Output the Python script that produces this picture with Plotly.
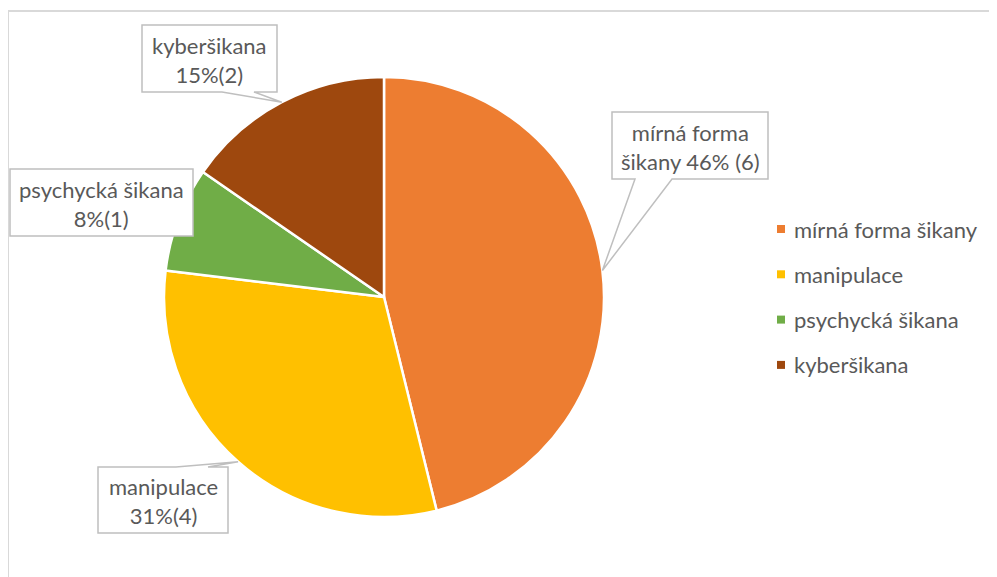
import math

import plotly.graph_objects as go

W, H = 997, 577
OFF = 8  # page body margin in the browser

categories = ["mírná forma šikany", "manipulace", "psychycká šikana", "kyberšikana"]
counts = [6, 4, 1, 2]
percents = [46, 31, 8, 15]
label_texts = [
    "mírná forma<br>šikany 46% (6)",
    "manipulace<br>31%(4)",
    "psychycká šikana<br>8%(1)",
    "kyberšikana<br>15%(2)",
]
colors = ["#ED7D31", "#FFC000", "#70AD47", "#9E480E"]

FONT = "Lato, 'Open Sans', sans-serif"
TEXT_COLOR = "#595959"
BOX_LINE = "#BFBFBF"
FS = 22

# pie geometry in screen pixels
cx, cy, r = 384, 297, 220

# callout boxes: (x0, y0, x1, y1, wedge side, wedge base start, wedge base end)
boxes = [
    (612, 112, 768, 179, "bottom", 635, 672),
    (98, 467, 228, 533, "top", 176, 208),
    (10, 169, 193, 236, None, None, None),
    (142, 25, 277, 92, "bottom", 222, 254),
]

fig = go.Figure()

fig.add_trace(go.Pie(
    labels=categories,
    values=counts,
    sort=False,
    direction="clockwise",
    rotation=0,
    marker=dict(colors=colors, line=dict(color="white", width=2.5)),
    textinfo="none",
    hoverinfo="label+value+percent",
    showlegend=False,
    domain=dict(x=[(cx - r - OFF) / W, (cx + r - OFF) / W],
                y=[1 - (cy + r - OFF) / H, 1 - (cy - r - OFF) / H]),
))

# hidden axes in screen pixels
fig.update_xaxes(range=[OFF, W + OFF], visible=False, fixedrange=True)
fig.update_yaxes(range=[H + OFF, OFF], visible=False, fixedrange=True)

total = sum(counts)
start = 0.0
shapes = []
annotations = []
for i, (cat, v) in enumerate(zip(categories, counts)):
    mid = start + v / total * 180.0
    start += v / total * 360.0
    a = math.radians(mid)
    tx = cx + r * math.sin(a)
    ty = cy - r * math.cos(a)

    x0, y0, x1, y1, side, b0, b1 = boxes[i]
    if side == "bottom":
        path = (f"M{x0},{y0} L{x1},{y0} L{x1},{y1} L{b1},{y1} "
                f"L{tx:.1f},{ty:.1f} L{b0},{y1} L{x0},{y1} Z")
    elif side == "top":
        path = (f"M{x0},{y0} L{b0},{y0} L{tx:.1f},{ty:.1f} L{b1},{y0} "
                f"L{x1},{y0} L{x1},{y1} L{x0},{y1} Z")
    else:
        path = f"M{x0},{y0} L{x1},{y0} L{x1},{y1} L{x0},{y1} Z"
    shapes.append(dict(type="path", path=path, xref="x", yref="y",
                       fillcolor="white", line=dict(color=BOX_LINE, width=1.5),
                       layer="above"))
    annotations.append(dict(x=(x0 + x1) / 2, y=(y0 + y1) / 2 + 1, xref="x", yref="y",
                            text=label_texts[i], showarrow=False,
                            font=dict(family=FONT, size=FS, color=TEXT_COLOR),
                            align="center", xanchor="center", yanchor="middle"))

# manual legend
leg_x, leg_y0, leg_step = 777, 229, 45.3
for i, cat in enumerate(categories):
    y = leg_y0 + i * leg_step
    shapes.append(dict(type="rect", xref="x", yref="y",
                       x0=leg_x, x1=leg_x + 8, y0=y - 4, y1=y + 4,
                       fillcolor=colors[i], line=dict(width=0)))
    annotations.append(dict(x=leg_x + 15, y=y, xref="x", yref="y", text=cat,
                            showarrow=False, xanchor="left", yanchor="middle",
                            font=dict(family=FONT, size=FS, color=TEXT_COLOR)))

# chart frame (top and left edges visible)
shapes.append(dict(type="line", xref="x", yref="y", x0=8, x1=W + OFF, y0=11, y1=11,
                   line=dict(color="#D9D9D9", width=2)))
shapes.append(dict(type="line", xref="x", yref="y", x0=8, x1=8, y0=11, y1=H + OFF,
                   line=dict(color="#D9D9D9", width=2)))

fig.update_layout(
    width=W, height=H,
    margin=dict(l=0, r=0, t=0, b=0),
    paper_bgcolor="white",
    plot_bgcolor="rgba(0,0,0,0)",
    shapes=shapes,
    annotations=annotations,
    showlegend=False,
)

fig.write_html("out.html")
